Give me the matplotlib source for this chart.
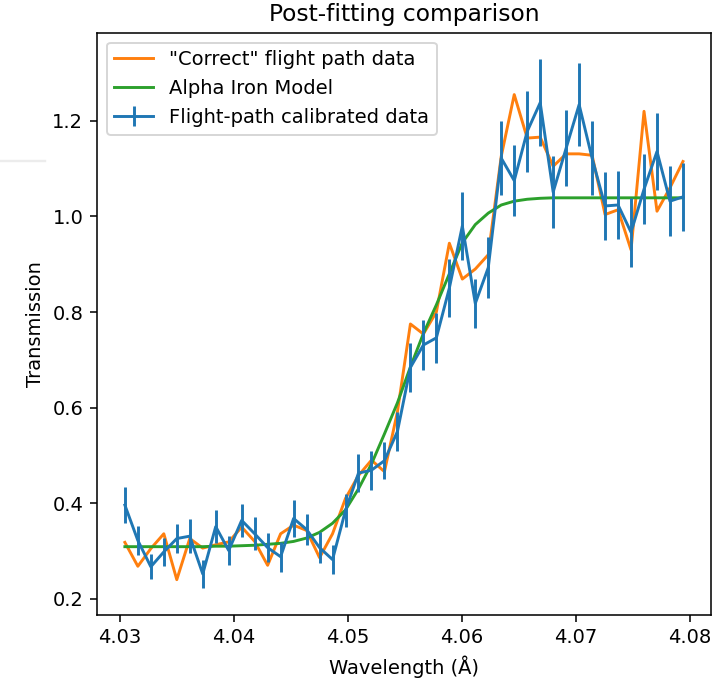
import numpy as np
import matplotlib
matplotlib.use("Agg")
import matplotlib.pyplot as plt
from matplotlib.lines import Line2D


# wavelength bins (Angstrom), 44 points
wavelength = np.linspace(4.03044, 4.07939, 44)

# flight-path calibrated data (blue, with error bars)
calibrated = [0.396, 0.322, 0.267, 0.298, 0.326, 0.331, 0.252, 0.351, 0.301, 0.364,
              0.336, 0.307, 0.288, 0.368, 0.345, 0.307, 0.282, 0.385, 0.463, 0.469,
              0.489, 0.550, 0.684, 0.731, 0.746, 0.850, 0.980, 0.818, 0.893, 1.122,
              1.075, 1.178, 1.238, 1.051, 1.143, 1.234, 1.122, 1.022, 1.024, 0.967,
              1.057, 1.136, 1.032, 1.041]

calibrated_err = [0.038, 0.031, 0.026, 0.030, 0.031, 0.035, 0.030, 0.035, 0.030, 0.035,
                  0.035, 0.030, 0.031, 0.038, 0.033, 0.033, 0.031, 0.035, 0.039, 0.041,
                  0.038, 0.040, 0.051, 0.052, 0.052, 0.061, 0.072, 0.052, 0.063, 0.077,
                  0.075, 0.084, 0.091, 0.075, 0.080, 0.087, 0.077, 0.072, 0.072, 0.072,
                  0.073, 0.080, 0.073, 0.071]

# "correct" flight path data (orange)
correct = [0.318, 0.268, 0.305, 0.336, 0.240, 0.326, 0.306, 0.313, 0.319, 0.350,
           0.320, 0.270, 0.336, 0.354, 0.343, 0.286, 0.336, 0.410, 0.458, 0.490,
           0.466, 0.591, 0.775, 0.754, 0.800, 0.944, 0.869, 0.890, 0.920, 1.126,
           1.255, 1.164, 1.166, 1.105, 1.131, 1.131, 1.128, 1.004, 1.014, 0.930,
           1.220, 1.011, 1.060, 1.115]

# alpha iron model (green)
model = [0.309, 0.309, 0.309, 0.309, 0.309, 0.309, 0.309, 0.310, 0.310, 0.311,
         0.312, 0.314, 0.316, 0.320, 0.327, 0.339, 0.358, 0.386, 0.430, 0.482,
         0.545, 0.610, 0.685, 0.755, 0.815, 0.880, 0.945, 0.983, 1.007, 1.024,
         1.032, 1.036, 1.038, 1.039, 1.039, 1.039, 1.039, 1.039, 1.039, 1.039,
         1.039, 1.039, 1.039, 1.039]


#----------------------------------------------------------------------------------------------------
# screenshot was taken at ~1.4x scale
DPI = 140
fig = plt.figure(figsize=(713 / DPI, 683 / DPI), dpi=DPI)
ax = fig.add_axes([0.136, 0.100, 0.861, 0.852])

ax.plot(wavelength, correct, color='C1', label='"Correct" flight path data')
ax.plot(wavelength, model, color='C2', label='Alpha Iron Model')
ax.errorbar(wavelength, calibrated, yerr=calibrated_err, color='C0',
            label='Flight-path calibrated data')

ax.set_title('Post-fitting comparison')
ax.set_xlabel('Wavelength (Å)')
ax.set_ylabel('Transmission')
ax.legend(loc='upper left')

# faint stray line at the left edge of the screenshot
fig.add_artist(Line2D([0.0, 0.063], [0.764, 0.764], color='#ececec', lw=1.2,
                      transform=fig.transFigure))

fig.savefig('out.png', dpi=DPI)
